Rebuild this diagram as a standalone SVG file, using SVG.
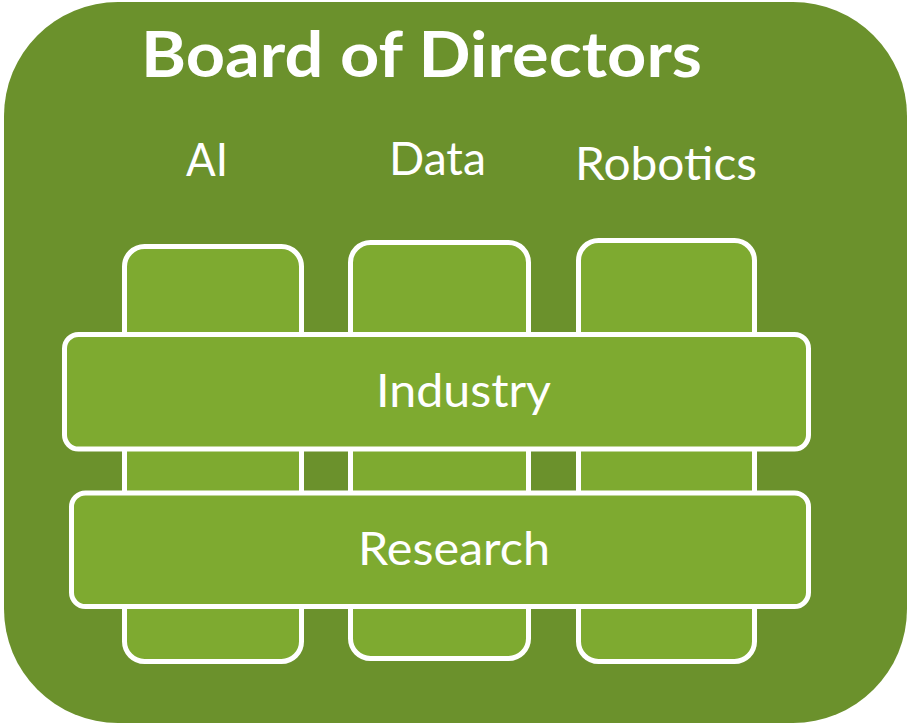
<svg xmlns="http://www.w3.org/2000/svg" width="909" height="724" viewBox="0 0 909 724">
<style>
.bg{fill:#6B912C}
.box{fill:#7EAA30;stroke:#FFFFFF;stroke-width:5}
.lbl{font-family:Lato,"Open Sans","Liberation Sans",sans-serif;font-size:46px;fill:#FFFFFF;text-anchor:middle}
.title{font-family:Lato,"Open Sans","Liberation Sans",sans-serif;font-size:63px;font-weight:bold;fill:#FFFFFF;text-anchor:middle}
</style>
<rect width="909" height="724" fill="#FFFFFF"/>
<g id="board">
<rect class="bg" x="4" y="2" width="903" height="721" rx="114" ry="114"/>
<text class="title" x="421.5" y="77" textLength="561" lengthAdjust="spacingAndGlyphs">Board of Directors</text>
</g>
<g id="ai">
<rect class="box" x="124.5" y="246.5" width="177" height="415" rx="20" ry="20"/>
<text class="lbl" x="207" y="176" textLength="42" lengthAdjust="spacingAndGlyphs">AI</text>
</g>
<g id="data">
<rect class="box" x="350.5" y="242.5" width="178" height="416" rx="20" ry="20"/>
<text class="lbl" x="437.5" y="175" textLength="97" lengthAdjust="spacingAndGlyphs">Data</text>
</g>
<g id="robotics">
<rect class="box" x="578.5" y="240.5" width="176" height="421" rx="20" ry="20"/>
<text class="lbl" x="666" y="180" textLength="182" lengthAdjust="spacingAndGlyphs">Robotics</text>
</g>
<g id="industry">
<rect class="box" x="64.5" y="334.5" width="744" height="114.5" rx="14" ry="14"/>
<text class="lbl" x="463.5" y="407" textLength="175" lengthAdjust="spacingAndGlyphs">Industry</text>
</g>
<g id="research">
<rect class="box" x="71.5" y="493" width="737" height="113.5" rx="14" ry="14"/>
<text class="lbl" x="454" y="565" textLength="192" lengthAdjust="spacingAndGlyphs">Research</text>
</g>
<g id="connectors"></g>
</svg>
